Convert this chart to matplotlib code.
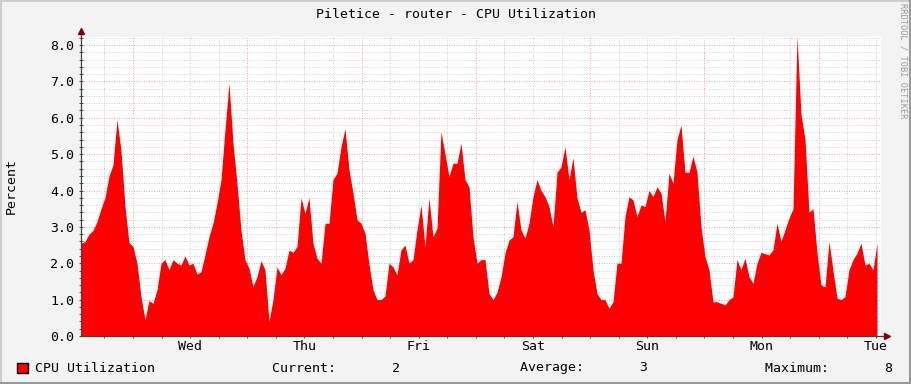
import numpy as np
import matplotlib.pyplot as plt
from matplotlib.ticker import MultipleLocator, FixedLocator, FormatStrFormatter
from matplotlib.lines import Line2D
from matplotlib.patches import Rectangle

# chart text
title = 'Piletice - router - CPU Utilization'
ylabel = 'Percent'
series_name = 'CPU Utilization'
day_labels = ['Wed', 'Thu', 'Fri', 'Sat', 'Sun', 'Mon', 'Tue']

# time axis (hours from left edge of graph)
span_hours = 168.0
first_midnight = 10.92
hours_per_sample = 0.84

# CPU utilization (%), one value per sample
cpu = [
    2.55, 2.6, 2.8, 2.9, 3.15, 3.5, 3.8, 4.4, 4.7, 5.95,
    5.1, 3.56, 2.57, 2.46, 2.0, 1.08, 0.45, 0.97, 0.9, 1.27,
    2.0, 2.1, 1.82, 2.1, 2.0,
    1.95, 2.2, 1.95, 2.0, 1.7, 1.77, 2.23, 2.73, 3.1, 3.65,
    4.3, 5.67, 6.95, 5.3, 4.2, 2.9, 2.1, 1.86, 1.36, 1.63,
    2.07, 1.82, 0.4, 1.0, 1.9,
    1.68, 1.86, 2.36, 2.3, 2.46, 3.8, 3.37, 3.8, 2.55, 2.14,
    2.0, 3.1, 3.1, 4.3, 4.48, 5.2, 5.7, 4.57, 3.93, 3.2,
    3.1, 2.83, 1.97, 1.27, 1.0,
    1.0, 1.1, 2.0, 1.9, 1.68, 2.37, 2.5, 2.0, 2.1, 2.92,
    3.6, 2.46, 3.8, 2.73, 2.96, 5.62, 5.0, 4.38, 4.75, 4.75,
    5.3, 4.3, 4.1, 2.73, 2.0,
    2.1, 2.1, 1.17, 1.0, 1.2, 1.63, 2.28, 2.64, 2.73, 3.7,
    2.92, 2.69, 3.1, 3.83, 4.3, 4.0, 3.83, 3.56, 3.0, 4.5,
    4.65, 5.2, 4.3, 4.9, 3.8,
    3.4, 3.47, 2.92, 1.82, 1.17, 1.0, 1.0, 0.76, 0.94, 2.0,
    2.0, 3.28, 3.83, 3.74, 3.28, 3.6, 3.56, 4.0, 3.83, 4.1,
    3.93, 3.15, 4.48, 4.2, 5.4,
    5.8, 4.5, 4.5, 4.95, 4.5, 3.0, 2.18, 1.82, 0.94, 0.94,
    0.9, 0.85, 1.0, 1.08, 2.1, 1.82, 2.14, 1.63, 1.45, 2.0,
    2.3, 2.26, 2.23, 2.37, 3.1,
    2.6, 2.92, 3.24, 3.5, 8.24, 6.1, 5.4, 3.4, 3.5, 2.3,
    1.4, 1.35, 2.6, 1.8, 1.04, 1.0, 1.08, 1.82, 2.1, 2.28,
    2.55, 1.95, 2.0, 1.82, 2.55,
]

current_val = 2
average_val = 3
maximum_val = 8

W, H = 911, 384
mono = 'DejaVu Sans Mono'
plt.rcParams['font.family'] = mono

fig = plt.figure(figsize=(W / 100, H / 100), dpi=100)
fig.patch.set_facecolor('#f3f3f3')

# plot area: x 81..881, y 37..336 (pixels)
ax = fig.add_axes([81 / W, (H - 336) / H, 800 / W, 299 / H])
ax.set_facecolor('white')

t = np.arange(len(cpu)) * hours_per_sample
ax.fill_between(t, 0, cpu, color='#ff0000', lw=0, zorder=2)

ax.set_xlim(0, span_hours)
ax.set_ylim(0, 8.22)

# grid
midnights = first_midnight + 24 * np.arange(7)
six_hours = np.arange(first_midnight - 6, span_hours, 6)
ax.xaxis.set_major_locator(FixedLocator(midnights))
ax.xaxis.set_minor_locator(FixedLocator(six_hours))
ax.xaxis.set_major_formatter(plt.NullFormatter())
ax.yaxis.set_major_locator(MultipleLocator(1.0))
ax.yaxis.set_minor_locator(MultipleLocator(0.2))
ax.yaxis.set_major_formatter(FormatStrFormatter('%.1f'))

ax.grid(which='minor', color='#d2d2d2', lw=0.72, linestyle=(0, (1, 1.5)), zorder=0)
ax.grid(which='major', color='#eeaaaa', lw=0.72, linestyle=(0, (1, 1.5)), zorder=1)
ax.set_axisbelow(True)

ax.tick_params(which='both', direction='inout', color='#505050', width=0.72)
ax.tick_params(which='major', length=3.5, labelsize=9.5, pad=3)
ax.tick_params(which='minor', length=2.5)
ax.tick_params(axis='x', which='both', bottom=True, labelbottom=False)

for s in ['top', 'right']:
    ax.spines[s].set_visible(False)
for s in ['left', 'bottom']:
    ax.spines[s].set_color('#404040')
    ax.spines[s].set_linewidth(0.9)
    ax.spines[s].set_zorder(4)

# axis arrows
ax.plot([0, 0], [1, 1.015], transform=ax.transAxes, color='#404040', lw=0.9, clip_on=False)
ax.plot([0], [1.02], marker='^', ms=5, color='#800000', transform=ax.transAxes, clip_on=False)
ax.plot([1, 1.004], [0, 0], transform=ax.transAxes, color='#404040', lw=0.9, clip_on=False)
ax.plot([1.007], [0], marker='>', ms=5, color='#800000', transform=ax.transAxes, clip_on=False)

# day labels at noon
for k, lab in enumerate(day_labels):
    ax.text(midnights[k] + 12, -0.035, lab, transform=ax.get_xaxis_transform(),
            ha='center', va='center', fontsize=9.5)

fig.text(11 / W, 1 - 186 / H, ylabel, rotation=90, ha='center', va='center', fontsize=9.5)

fig.text(0.5, 1 - 14 / H, title, ha='center', va='center', fontsize=9.5)
fig.text(903 / W, 1 - 61 / H, 'RRDTOOL / TOBI OETIKER', rotation=270,
         ha='center', va='center', fontsize=6.2, color='#9a9a9a')

# legend row
fig.add_artist(Rectangle((17 / W, 1 - 373 / H), 10.5 / W, 10.5 / H,
                         facecolor='#ff0000', edgecolor='black', lw=1))
ly = 1 - 368 / H
fig.text(35 / W, ly, series_name, ha='left', va='center', fontsize=9.5)
fig.text(272 / W, ly, 'Current:%8d' % current_val, ha='left', va='center', fontsize=9.5)
fig.text(520 / W, ly, 'Average:%8d' % average_val, ha='left', va='center', fontsize=9.5)
fig.text(765 / W, ly, 'Maximum:%8d' % maximum_val, ha='left', va='center', fontsize=9.5)

# frame shading
fig.add_artist(Line2D([0, 1], [1 - 0.5 / H, 1 - 0.5 / H], color='#cbcbcb', lw=1.4))
fig.add_artist(Line2D([0.5 / W, 0.5 / W], [0, 1], color='#cbcbcb', lw=1.4))
fig.add_artist(Line2D([0, 1], [1 / H, 1 / H], color='#999999', lw=1.5))
fig.add_artist(Line2D([1 - 1 / W, 1 - 1 / W], [0, 1], color='#999999', lw=1.5))

fig.savefig('out.png', dpi=100, facecolor=fig.get_facecolor())
